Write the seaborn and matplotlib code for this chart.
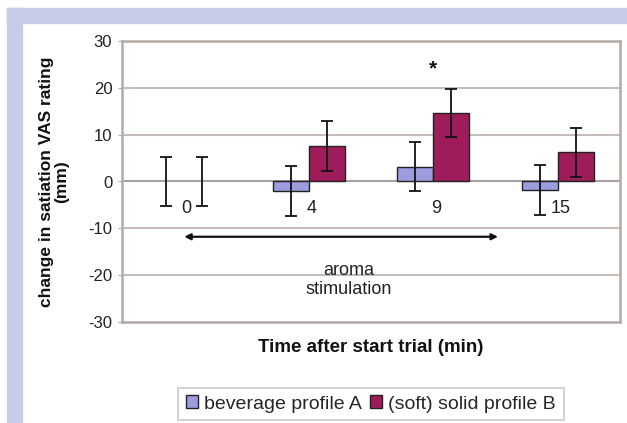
import pandas as pd
import numpy as np
import matplotlib
matplotlib.use('Agg')
import matplotlib.pyplot as plt
import seaborn as sns
from matplotlib.patches import Rectangle, Patch

# data
times = ['0', '4', '9', '15']
series = ['beverage profile A', '(soft) solid profile B']
profile_a = [0.0, -2.0, 3.2, -1.8]
profile_b = [0.0, 7.6, 14.6, 6.2]
err_a = [5.2, 5.3, 5.3, 5.3]
err_b = [5.2, 5.3, 5.2, 5.3]

colors = ['#9c9cde', '#9e1c5a']
frame_col = '#b3aaa6'

df = pd.DataFrame({
    'time': times * 2,
    'profile': [series[0]] * 4 + [series[1]] * 4,
    'change': profile_a + profile_b,
})

sns.set_style('white')
plt.rcParams['font.family'] = ['Liberation Sans', 'DejaVu Sans']
plt.rcParams['axes.unicode_minus'] = False

fig = plt.figure(figsize=(6.27, 4.23), dpi=100)
fig.patch.set_facecolor('white')
# lavender border like the source page
lav = '#c9cce8'
fig.add_artist(Rectangle((7 / 627, 0), 15 / 627, 1 - 8 / 423, transform=fig.transFigure,
                         color=lav, zorder=0))
fig.add_artist(Rectangle((7 / 627, 1 - 23 / 423), 1, 15 / 423, transform=fig.transFigure,
                         color=lav, zorder=0))

ax = fig.add_axes([122 / 627, 101 / 423, 498 / 627, 281 / 423])
sns.barplot(data=df, x='time', y='change', hue='profile', hue_order=series,
            order=times, palette=colors, saturation=1, width=0.58, errorbar=None,
            edgecolor='#222222', linewidth=1.0, ax=ax, legend=False, zorder=3)

# error bars at the bar centres
bars = [p for p in ax.patches if p.get_width() > 0]
errs = err_a + err_b
for p, e in zip(bars, errs):
    if p.get_height() == 0:
        p.set_linewidth(0)
    xc = p.get_x() + p.get_width() / 2
    yv = p.get_y() + p.get_height()
    ax.errorbar(xc, yv, yerr=e, color='#111111', capsize=4.5, elinewidth=1.3,
                capthick=1.3, zorder=5)

ax.set_ylim(-30, 30)
ax.set_xlim(-0.5, 3.5)
ax.set_yticks([-30, -20, -10, 0, 10, 20, 30])
for yv in [-20, -10, 10, 20]:
    ax.axhline(yv, color='#c4bdb9', lw=1.5, zorder=1)
ax.axhline(0, color='#a9a19d', lw=1.5, zorder=2)
for s in ax.spines.values():
    s.set_color(frame_col)
    s.set_linewidth(1.8)
ax.tick_params(axis='y', length=3, color=frame_col, labelsize=12, pad=4,
               labelcolor='#222222', left=True)
ax.set_xticks([])
ax.set_xlabel('Time after start trial (min)', fontsize=13.5, fontweight='bold',
              labelpad=12, color='#111111')
ax.set_ylabel('change in satiation VAS rating\n(mm)', fontsize=12.5, fontweight='bold',
              color='#111111', labelpad=14, linespacing=1.0)

# category labels next to the zero line
for i, t in enumerate(times):
    ax.text(i + 0.02, -5.8, t, ha='center', va='center', fontsize=13, color='#222222',
            zorder=6)

ax.text(2, 24.0, '*', ha='center', va='center', fontsize=15, fontweight='bold',
        color='#111111')
ax.annotate('', xy=(2.52, -11.8), xytext=(0.0, -11.8),
            arrowprops=dict(arrowstyle='<|-|>', color='#111111', lw=1.6,
                            mutation_scale=9, shrinkA=0, shrinkB=0))
ax.text(1.32, -21.0, 'aroma\nstimulation', ha='center', va='center', fontsize=13,
        color='#222222', linespacing=1.2)

handles = [Patch(facecolor=c, edgecolor='#222222', linewidth=1.0) for c in colors]
leg = fig.legend(handles, series, loc='center', bbox_to_anchor=(371 / 627, 19 / 423),
                 ncol=2, fontsize=14, frameon=True, handlelength=0.6, handleheight=0.6,
                 handletextpad=0.35, columnspacing=0.4, borderpad=0.4, fancybox=False)
leg.get_frame().set_edgecolor('#bdbdbd')
leg.get_frame().set_linewidth(1.2)

fig.savefig('out.png', dpi=100, facecolor=fig.get_facecolor())
